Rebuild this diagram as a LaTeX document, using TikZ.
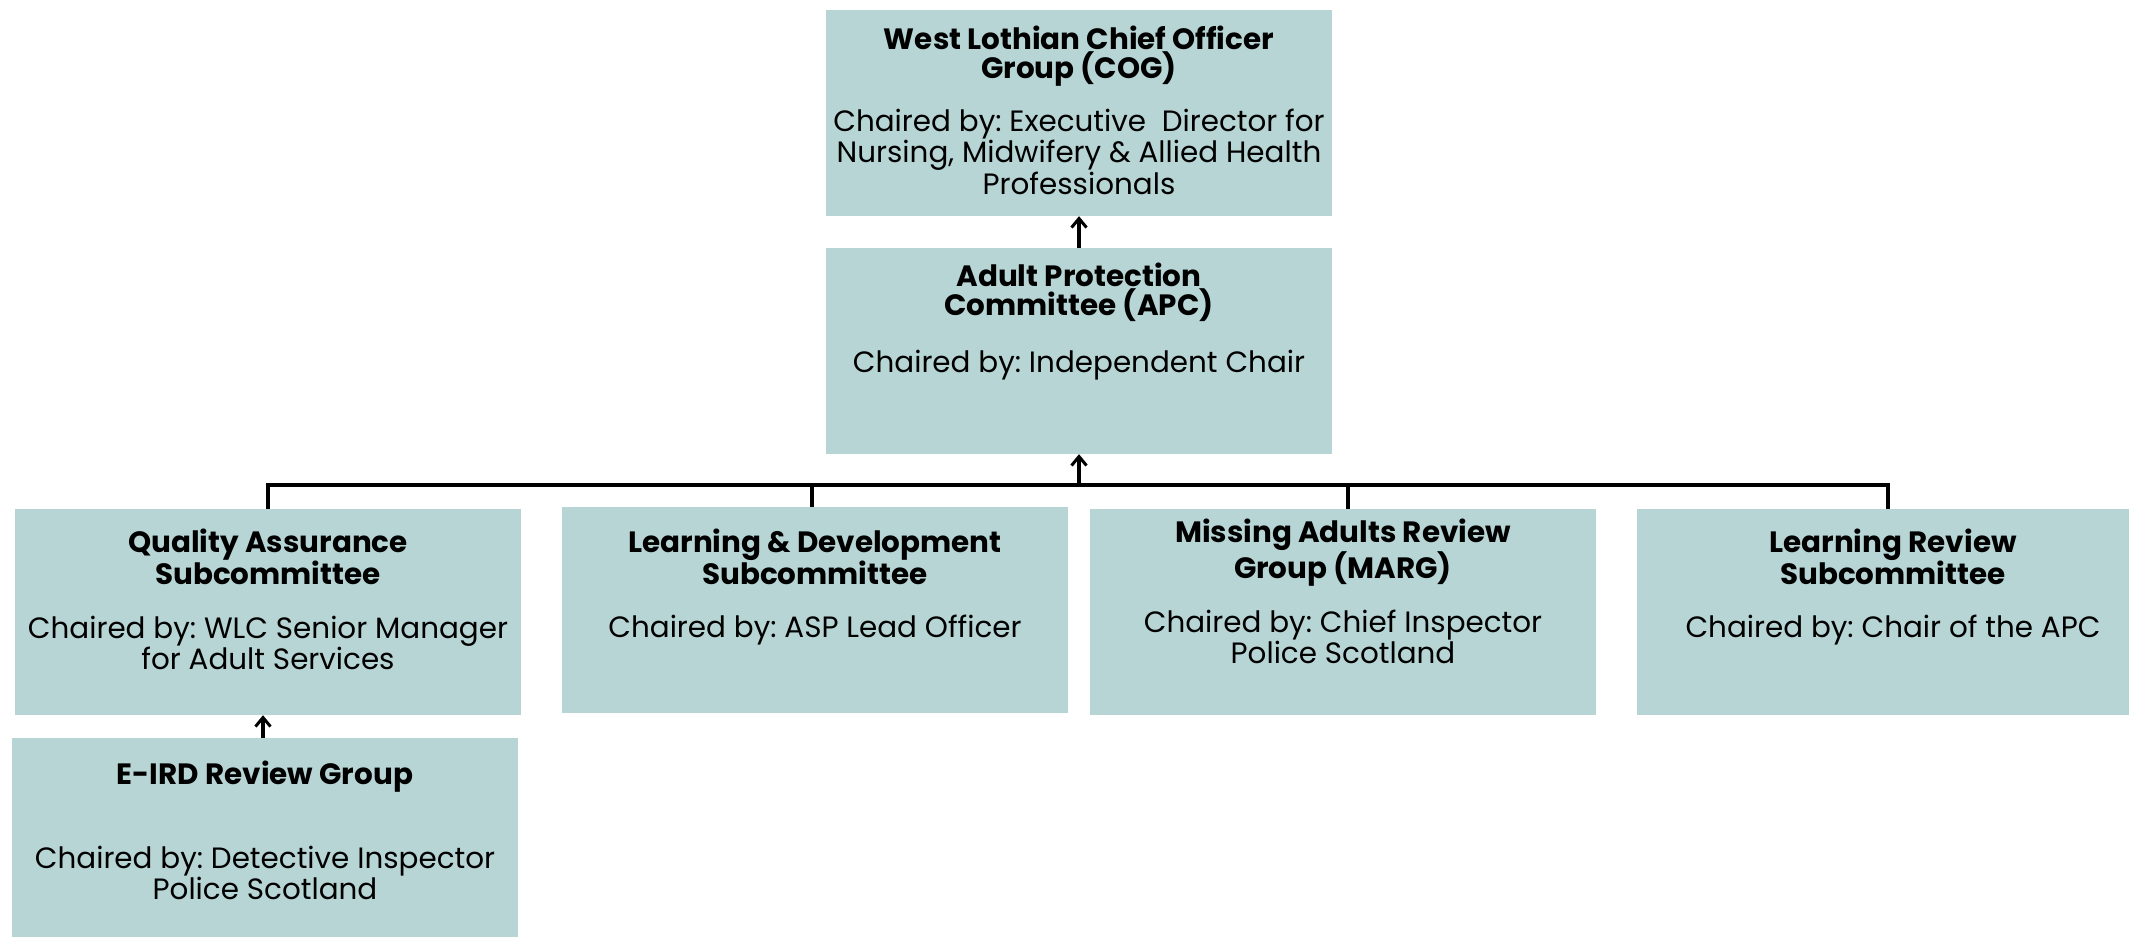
\documentclass[tikz,border=0pt]{standalone}
\usepackage{fontspec}
\setmainfont{Poppins}
\usetikzlibrary{arrows.meta}
\definecolor{boxteal}{RGB}{183,213,213}
\frenchspacing
\tikzset{
  panel/.style={fill=boxteal, inner sep=0, minimum width=506, minimum height=206},
  head/.style={font=\bfseries\fontsize{29.4}{28.8}\selectfont, align=center, inner sep=0},
  chair/.style={font=\fontsize{29.4}{30}\selectfont, align=center, inner sep=0},
  link/.style={line width=3.5pt},
  uparrow/.style={link, -{Straight Barb[length=9pt, width=15pt, line width=3pt]}}
}
\begin{document}
\begin{tikzpicture}[x=1pt, y=-1pt]
\useasboundingbox (0,0) rectangle (2129,937);

% boxes
\node[panel] (cog)  at (1079,113) {};
\node[panel] (apc)  at (1079,351) {};
\node[panel] (qa)   at (268,612) {};
\node[panel] (ld)   at (815,610) {};
\node[panel] (marg) at (1343,612) {};
\node[panel] (lr)   at (1890,612) {};
\node[panel] (eird) at (265,841) {};

% texts
\node[head]  (cogT)  at (1079,56) {West Lothian Chief Officer\\Group (COG)};
\node[chair] (cogC)  at (1079,152) {Chaired by: Executive\ \ Director for\\Nursing, Midwifery \& Allied Health\\Professionals};

\node[head]  (apcT)  at (1079,292) {Adult Protection\\Committee (APC)};
\node[chair] (apcC)  at (1079,365) {Chaired by: Independent Chair};

\node[head]  (qaT)   at (268,557) {Quality Assurance\\Subcommittee};
\node[chair] (qaC)   at (268,643) {Chaired by: WLC Senior Manager\\for Adult Services};

\node[head]  (ldT)   at (815,557) {Learning \& Development\\Subcommittee};
\node[chair] (ldC)   at (815,630) {Chaired by: ASP Lead Officer};

\node[head]  (margT) at (1343,553) {Missing Adults Review\\Group (MARG)};
\node[chair] (margC) at (1343,637) {Chaired by: Chief Inspector\\Police Scotland};

\node[head]  (lrT)   at (1893,557) {Learning Review\\Subcommittee};
\node[chair] (lrC)   at (1893,630) {Chaired by: Chair of the APC};

\node[head]  (eirdT) at (265,777) {E-IRD Review Group};
\node[chair] (eirdC) at (265,873) {Chaired by: Detective Inspector\\Police Scotland};

% connectors
\coordinate (bus) at (0,485);
\draw[link] (qa.north) -- (qa.north |- bus) -- ([xshift=-2]lr.north |- bus) -- ([xshift=-2]lr.north);
\draw[link] ([xshift=-3]ld.north) -- ([xshift=-3]ld.north |- bus);
\draw[link] ([xshift=5]marg.north) -- ([xshift=5]marg.north |- bus);
\draw[uparrow] (apc.south |- bus) -- (apc.south);
\draw[uparrow] (apc.north) -- (cog.south);
\draw[uparrow] ([xshift=-2]eird.north) -- ([xshift=-2]eird.north |- qa.south);
\end{tikzpicture}
\end{document}
